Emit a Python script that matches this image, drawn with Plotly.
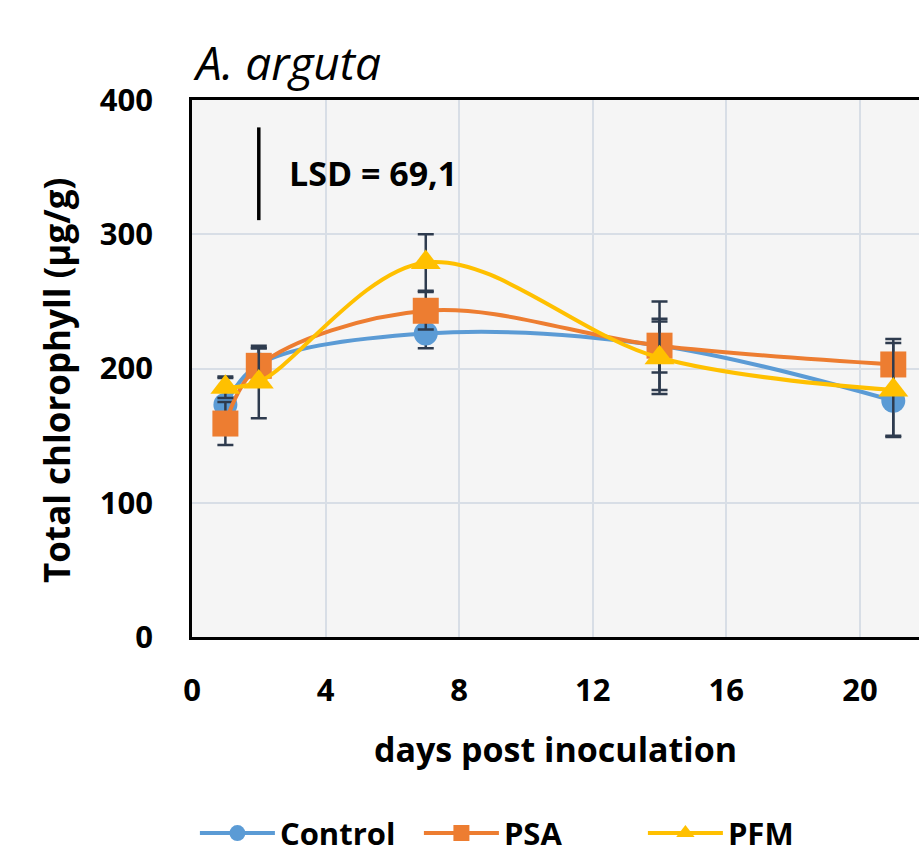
import plotly.graph_objects as go

days = [1, 2, 7, 14, 21]
control = [173, 203, 226, 217, 176]
control_err = [20, 12, 11, 20, 26]
psa = [159, 202, 243, 217, 203]
psa_err = [16, 13, 14, 33, 19]
pfm = [186, 190, 279, 208, 184]
pfm_err = [8, 27, 21, 27, 35]

series_names = ["Control", "PSA", "PFM"]
colors = ["#5B9BD5", "#ED7D31", "#FFC000"]
symbols = ["circle", "square", "triangle-up"]
err_color = "#2E3B4E"

lsd_x = [2, 2]
lsd_y = [310.5, 379.6]
lsd_label = "LSD = 69,1"
y_title = "Total chlorophyll (μg/g)"

FONT = "Open Sans"

fig = go.Figure()
for name, vals, errs, col, sym, size in zip(series_names, [control, psa, pfm],
                                            [control_err, psa_err, pfm_err],
                                            colors, symbols, [24, 26, 26]):
    fig.add_trace(go.Scatter(
        x=days, y=vals, name=name, mode="lines+markers",
        line=dict(color=col, width=4, shape="spline", smoothing=1.0),
        marker=dict(color=col, symbol=sym, size=size),
        error_y=dict(type="data", array=errs, visible=True, color=err_color,
                     thickness=2.5, width=8),
    ))

fig.add_trace(go.Scatter(x=lsd_x, y=lsd_y, mode="lines",
                         line=dict(color="black", width=3.5),
                         showlegend=False, hoverinfo="skip"))
fig.add_annotation(x=2.85, y=346, text=f"<b>{lsd_label}</b>", showarrow=False,
                   xanchor="left", yanchor="middle",
                   font=dict(family=FONT, size=34, color="black"))
fig.add_annotation(x=-0.1857, y=0.4786, xref="paper", yref="paper",
                   text=f"<b>{y_title}</b>", showarrow=False, textangle=-90,
                   xanchor="center", yanchor="middle",
                   font=dict(family=FONT, size=35, color="black"))

fig.update_layout(
    width=919, height=853,
    margin=dict(l=192, r=0, t=100, b=216, autoexpand=False),
    paper_bgcolor="white",
    plot_bgcolor="#f5f5f5",
    font=dict(family=FONT, color="black"),
    title=dict(text="<i>A. arguta</i>", x=0, xref="paper", xanchor="left",
               y=1, yref="paper", yanchor="bottom", pad=dict(b=20, l=4),
               automargin=False,
               font=dict(family=FONT, size=46, color="black")),
    showlegend=True,
    legend=dict(orientation="h", x=0.004, xanchor="left", y=-0.416, yanchor="bottom",
                font=dict(family=FONT, size=31, color="black", weight="bold"),
                itemwidth=75, entrywidthmode="pixels", entrywidth=134,
                bgcolor="rgba(0,0,0,0)"),
)
fig.update_xaxes(range=[0, 21.77], tickmode="array", tickvals=[0, 4, 8, 12, 16, 20],
                 automargin=False,
                 showgrid=True, gridcolor="#d8dee6", gridwidth=2,
                 showline=True, linecolor="black", linewidth=2.5, mirror=True,
                 zeroline=False, ticks="", ticklabelstandoff=24,
                 tickfont=dict(family=FONT, size=31, color="black", weight="bold"),
                 title=dict(text="<b>days post inoculation</b>", standoff=30,
                            font=dict(family=FONT, size=34, color="black")))
fig.update_yaxes(range=[0, 400], tickmode="array", tickvals=[0, 100, 200, 300, 400],
                 automargin=False,
                 showgrid=True, gridcolor="#d8dee6", gridwidth=2,
                 showline=True, linecolor="black", linewidth=2.5,
                 zeroline=False, ticks="", ticklabelstandoff=30,
                 tickfont=dict(family=FONT, size=31, color="black", weight="bold"))

fig.write_html("out.html", config={"displayModeBar": False},
               post_script="document.body.style.margin='0';")
